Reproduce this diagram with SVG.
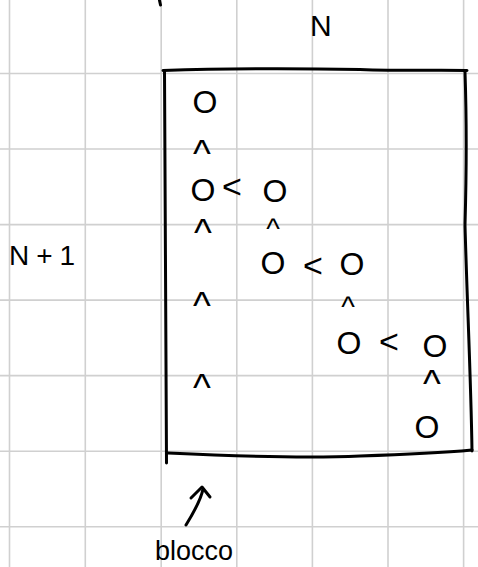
<svg xmlns="http://www.w3.org/2000/svg" width="478" height="567" viewBox="0 0 478 567">
<style>
.grid{stroke:#d0d0d0;stroke-width:1.6;fill:none}
.ink{stroke:#000;stroke-width:3;fill:none;stroke-linecap:round;stroke-linejoin:round}
.t{font-family:"Liberation Sans",Arial,sans-serif;fill:#000}
.o{font-size:32px;text-anchor:middle}
.up{font-size:38px;text-anchor:middle}
.up-s{font-size:29px;text-anchor:middle}
.lt{font-size:34px;text-anchor:middle}
</style>
<rect width="478" height="567" fill="#fff"/>
<g id="grid" class="grid">
<path d="M9.5 0V567M85.3 0V567M161.2 0V567M236.8 0V567M312.4 0V567M388 0V567M463.6 0V567"/>
<path d="M0 73.5H478M0 149H478M0 224.6H478M0 300.1H478M0 375.6H478M0 451.2H478M0 526.7H478"/>
</g>
<g id="marks" class="ink">
<path d="M159.5 0.5L160.5 5"/>
</g>
<g id="block" class="ink">
<path d="M163 70.5C240 68 300 68.5 360 69.5C400 71 440 70 467 70.5"/>
<path d="M164.5 71C165 180 166 320 166.5 463"/>
<path d="M168 453C230 456 300 459 360 456C420 454 450 452 472 450"/>
<path d="M465 72C467 130 466 190 465 225C467 300 471 380 472 451"/>
</g>
<g id="label-N"><text class="t" x="310" y="36" font-size="30">N</text></g>
<g id="label-N1"><text class="t" x="9" y="265" font-size="28" textLength="66" lengthAdjust="spacing">N+1</text></g>
<g id="label-blocco"><text class="t" x="155" y="560" font-size="27" textLength="78" lengthAdjust="spacingAndGlyphs">blocco</text></g>
<g id="cells" class="t">
<g id="r1"><text class="o" x="205" y="112.5">O</text></g>
<g id="u1"><text class="up" x="202" y="167">^</text></g>
<g id="r2"><text class="o" x="203" y="200.5">O</text><text class="lt" x="232" y="198">&lt;</text><text class="o" x="275" y="201.5">O</text></g>
<g id="u2"><text class="up" x="203" y="246">^</text><text class="up-s" x="273" y="238.5">^</text></g>
<g id="r3"><text class="o" x="273" y="273.5">O</text><text class="lt" x="313" y="277">&lt;</text><text class="o" x="352" y="274.5">O</text></g>
<g id="u3"><text class="up" x="202" y="319">^</text><text class="up-s" x="348" y="316.5">^</text></g>
<g id="r4"><text class="o" x="349" y="353.5">O</text><text class="lt" x="389" y="353">&lt;</text><text class="o" x="435" y="356.5">O</text></g>
<g id="u4"><text class="up" x="202" y="401">^</text><text class="up" x="432" y="397">^</text></g>
<g id="r5"><text class="o" x="427" y="437.5">O</text></g>
</g>
<g id="connectors" class="ink">
<path d="M186 525C194 512 201 500 203 489"/>
<path d="M191 498L202 487L210 497"/>
</g>
</svg>
